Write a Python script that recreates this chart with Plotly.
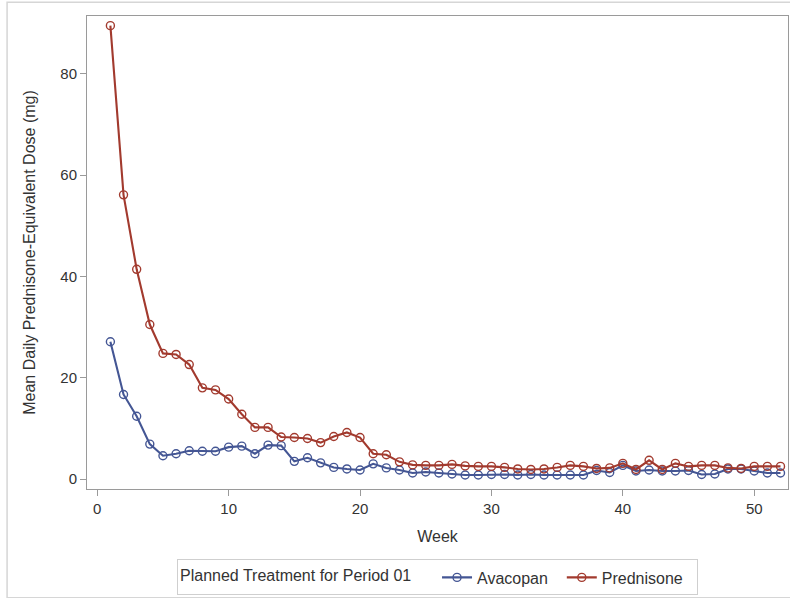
import plotly.graph_objects as go

weeks = list(range(1, 53))
avacopan = [27.1, 16.7, 12.4, 6.9, 4.6, 5.0, 5.6, 5.5, 5.5, 6.3,
            6.5, 5.0, 6.7, 6.6, 3.5, 4.2, 3.2, 2.3, 2.0, 1.8,
            3.0, 2.2, 1.8, 1.2, 1.4, 1.2, 1.0, 0.8, 0.8, 0.9,
            0.9, 0.8, 0.9, 0.8, 0.8, 0.8, 0.8, 1.7, 1.3, 2.7,
            1.6, 1.8, 1.6, 1.6, 1.7, 0.9, 1.0, 2.0, 2.0, 1.6,
            1.2, 1.2]
prednisone = [89.5, 56.1, 41.4, 30.5, 24.8, 24.6, 22.6, 18.0, 17.6, 15.8,
              12.8, 10.2, 10.2, 8.3, 8.2, 8.0, 7.2, 8.4, 9.2, 8.2,
              5.0, 4.8, 3.4, 2.8, 2.7, 2.7, 2.9, 2.6, 2.5, 2.5,
              2.3, 2.0, 1.9, 2.0, 2.3, 2.7, 2.5, 2.1, 2.2, 3.1,
              1.9, 3.7, 1.9, 3.1, 2.5, 2.7, 2.7, 2.2, 2.1, 2.5,
              2.5, 2.5]
x_ticks = [0, 10, 20, 30, 40, 50]
y_ticks = [0, 20, 40, 60, 80]

BLUE = "#445694"
RED = "#A23A2E"
FONT = "Liberation Sans, Arial, sans-serif"
TXT = "#333333"

fig = go.Figure()
for name, vals, col in [("Avacopan", avacopan, BLUE), ("Prednisone", prednisone, RED)]:
    fig.add_trace(go.Scatter(
        x=weeks, y=vals, name=name + "  ", mode="lines+markers",
        line=dict(color=col, width=2.1),
        marker=dict(symbol="circle-open", size=8, color=col, line=dict(width=1.4, color=col)),
    ))

axis_common = dict(
    showline=True, mirror=True, linecolor="#9a9a9a", linewidth=1,
    ticks="outside", ticklen=6, tickcolor="#9a9a9a", tickwidth=1,
    showgrid=False, zeroline=False,
    tickfont=dict(family=FONT, size=15, color=TXT),
    title_font=dict(family=FONT, size=16, color=TXT),
)

fig.update_layout(
    width=790, height=598,
    margin=dict(l=87, r=2, t=16, b=106),
    paper_bgcolor="white", plot_bgcolor="white",
    font=dict(family=FONT, color=TXT),
    xaxis=dict(range=[-0.78, 52.57], tickvals=x_ticks, title=dict(text="Week", standoff=14), **axis_common),
    yaxis=dict(range=[-1.96, 91.4], tickvals=y_ticks,
               title=dict(text="Mean Daily Prednisone-Equivalent Dose (mg)", standoff=20), **axis_common),
    legend=dict(
        orientation="h", x=0.5, xanchor="center", y=-0.149, yanchor="top",
        bordercolor="#cfcfcf", borderwidth=1,
        font=dict(family=FONT, size=16, color=TXT),
        title=dict(text="Planned Treatment for Period 01    ", font=dict(family=FONT, size=16, color=TXT)),
        tracegroupgap=0,
    ),
    shapes=[dict(type="rect", xref="paper", yref="paper",
                 x0=-0.114, x1=1.01, y0=-0.23, y1=1.029,
                 line=dict(color="#d6d6d6", width=1.5), fillcolor="rgba(0,0,0,0)", layer="below")],
)

fig.write_html("out.html", config={"displayModeBar": False},
               post_script="document.body.style.margin='0';document.body.style.padding='0';")
